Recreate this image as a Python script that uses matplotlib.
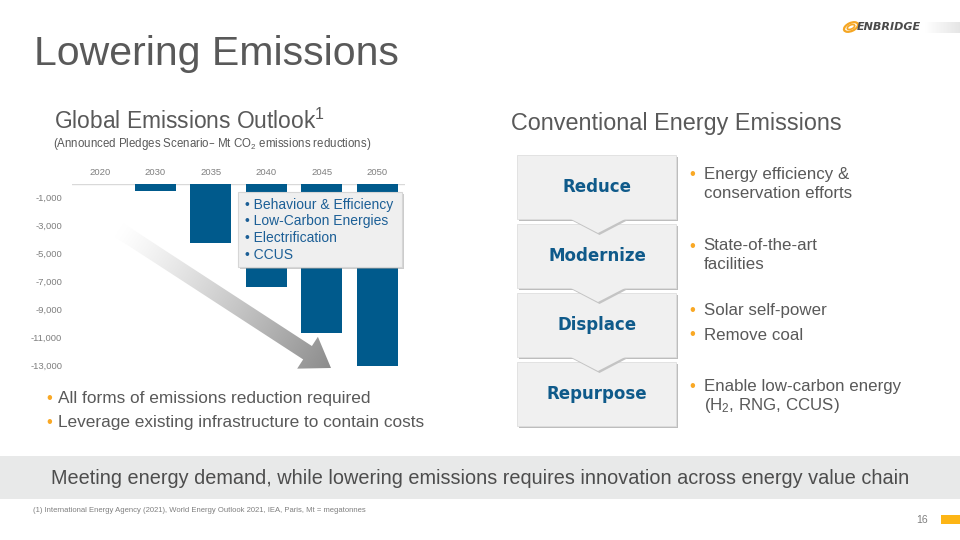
import numpy as np
import matplotlib.pyplot as plt
from matplotlib.patches import Rectangle, Polygon, Ellipse
from matplotlib.ticker import FuncFormatter

plt.rcParams['font.family'] = ['Liberation Sans', 'DejaVu Sans']
plt.rcParams['mathtext.default'] = 'regular'

# global emissions outlook, Mt CO2 reductions (Announced Pledges Scenario)
years = ['2020', '2030', '2035', '2040', '2045', '2050']
reductions = [0, -500, -4200, -7400, -10650, -13000]
y_ticks = [-1000, -3000, -5000, -7000, -9000, -11000, -13000]

levers = ['Behaviour & Efficiency', 'Low-Carbon Energies', 'Electrification', 'CCUS']
takeaways = ['All forms of emissions reduction required',
             'Leverage existing infrastructure to contain costs']

steps = ['Reduce', 'Modernize', 'Displace', 'Repurpose']
step_notes = [
    [['Energy efficiency &', 'conservation efforts']],
    [['State-of-the-art', 'facilities']],
    [['Solar self-power'], ['Remove coal']],
    [['Enable low-carbon energy', '(H$_2$, RNG, CCUS)']],
]

BLUE = '#005a8c'
TXT_BLUE = '#1c5f96'
GREY = '#595959'
LIGHT = '#7f7f7f'
ORANGE = '#f9a825'

W, H = 960, 540
fig = plt.figure(figsize=(9.6, 5.4), dpi=100)

# --- bar chart ---
ax = fig.add_axes([72 / W, 1 - 365.7 / H, 333 / W, 182 / H])
x = np.arange(len(years))
ax.bar(x, reductions, width=0.73, color=BLUE, zorder=2)
ax.set_xlim(-0.5, len(years) - 0.5)
ax.set_ylim(-13000, 0)
ax.set_yticks(y_ticks)
ax.yaxis.set_major_formatter(FuncFormatter(lambda v, p: f'{int(v):,}'))
ax.set_xticks(x, years)
ax.xaxis.tick_top()
ax.tick_params(length=0, labelsize=6.8, labelcolor=LIGHT)
ax.tick_params(axis='y', pad=7)
ax.tick_params(axis='x', pad=5)
for s in ax.spines.values():
    s.set_visible(False)
ax.axhline(0, color='#d9d9d9', lw=1, zorder=1)
ax.patch.set_alpha(0)

# --- slide overlay (pixel coords) ---
ov = fig.add_axes([0, 0, 1, 1])
ov.set_xlim(0, W)
ov.set_ylim(H, 0)
ov.axis('off')
ov.patch.set_alpha(0)

ov.text(34, 65, 'Lowering Emissions', fontsize=29.5, color=GREY, va='baseline')
ov.text(54, 129, 'Global Emissions Outlook$^{1}$', fontsize=16.4, color=GREY, va='baseline')
ov.text(53, 147, '(Announced Pledges Scenario\u2013 Mt CO$_2$ emissions reductions)',
        fontsize=8.3, color=GREY, va='baseline')
ov.text(511, 130, 'Conventional Energy Emissions', fontsize=16.8, color=GREY, va='baseline')

# gradient arrow
x0, y0, x1, y1 = 119, 230, 331, 368
L = np.hypot(x1 - x0, y1 - y0)
u = np.array([(x1 - x0) / L, (y1 - y0) / L])
n = np.array([-u[1], u[0]])
p0 = np.array([x0, y0])
tip = np.array([x1, y1])
base = tip - 28 * u
hw, sw = 19, 8
arrow_pts = [p0 + sw * n, base + sw * n, base + hw * n, tip,
             base - hw * n, base - sw * n, p0 - sw * n]
arrow = Polygon(arrow_pts, closed=True, fc='none', ec='none')
ov.add_patch(arrow)
gx = np.linspace(95, 350, 300)
gy = np.linspace(215, 385, 200)
GX, GY = np.meshgrid(gx, gy)
t = np.clip(((GX - x0) * u[0] + (GY - y0) * u[1]) / L, 0, 1)
g = 1 - 0.45 * t ** 1.2
img = np.dstack([g, g, g])
im = ov.imshow(img, extent=(95, 350, 385, 215), origin='upper', aspect='auto', zorder=3)
im.set_clip_path(arrow)
ov.set_xlim(0, W)
ov.set_ylim(H, 0)

# levers callout
ov.add_patch(Rectangle((240, 194), 164, 75, fc='#9a9a9a', ec='none', alpha=0.5, zorder=4))
ov.add_patch(Rectangle((238, 192), 164, 75, fc='#efefef', ec='#d6d6d6', lw=0.8, zorder=5))
for i, lv in enumerate(levers):
    ov.text(245, 204.5 + i * 16.7, '\u2022 ' + lv, fontsize=10, color=TXT_BLUE,
            va='center', zorder=6)

# takeaways
for i, tk in enumerate(takeaways):
    yy = 398.5 + i * 24.3
    ov.text(46, yy, '\u2022', fontsize=12, color=ORANGE, va='center')
    ov.text(58, yy, tk, fontsize=12.4, color=GREY, va='center')

# right-hand step boxes
top0, step_h, box_h = 155, 69, 64
for i, st in enumerate(steps):
    top = top0 + i * step_h
    ov.add_patch(Rectangle((519, top + 2), 159, box_h, fc='#bdbdbd', ec='none', zorder=2))
    ov.add_patch(Rectangle((517, top), 159, box_h, fc='#f0f0f0', ec='#dedede', lw=0.6, zorder=2))
    ov.text(597, top + box_h / 2, st, fontsize=12, fontweight='bold',
            family='DejaVu Sans', color='#0f5a8a', ha='center', va='center', zorder=5)
for i in range(len(steps) - 1):
    yb = top0 + i * step_h + box_h
    ov.add_patch(Polygon([(571, yb + 1), (628, yb + 1), (599.5, yb + 16)],
                         fc='#c4c4c4', ec='none', zorder=3))
    ov.add_patch(Polygon([(569, yb - 1), (627, yb - 1), (598, yb + 14)],
                         fc='#f0f0f0', ec='none', zorder=4))

note_y = [[175], [246], [311, 335], [387]]
for i, notes in enumerate(step_notes):
    for j, lines in enumerate(notes):
        yy = note_y[i][j]
        ov.text(692, yy, '\u2022', fontsize=12, color=ORANGE, va='center', ha='center')
        for k, ln in enumerate(lines):
            ov.text(703.5, yy + k * 18.2, ln, fontsize=12.2, color=GREY, va='center')

# bottom banner
ov.add_patch(Rectangle((0, 456), W, 43, fc='#e8e9e9', ec='none'))
ov.text(480, 478, 'Meeting energy demand, while lowering emissions requires innovation across energy value chain',
        fontsize=14.3, color='#4d4d4d', ha='center', va='center')

ov.text(33, 510, '(1) International Energy Agency (2021), World Energy Outlook 2021, IEA, Paris, Mt = megatonnes',
        fontsize=5.5, color=LIGHT, va='center')
ov.text(928, 520, '16', fontsize=7.5, color=LIGHT, ha='right', va='center')
ov.add_patch(Rectangle((941, 515), 19, 9, fc='#fdb515', ec='none'))

# logo
grad = np.linspace(1, 0.9, 60)
strip = np.dstack([np.tile(grad, (8, 1))] * 3)
ov.imshow(strip, extent=(925, 960, 33, 22), origin='upper', aspect='auto', zorder=1)
ov.add_patch(Ellipse((851, 27), 15, 8, angle=-25, fill=False, ec='#f5a623', lw=1.6))
ov.add_patch(Ellipse((851, 27), 8, 4, angle=-25, fill=False, ec='#f5a623', lw=1.2))
ov.text(857, 27.5, 'ENBRIDGE', fontsize=8, fontweight='bold', style='italic',
        family='DejaVu Sans', color='#4a4a4a', va='center')
ov.set_xlim(0, W)
ov.set_ylim(H, 0)

fig.savefig('out.png', dpi=100, facecolor='white')
